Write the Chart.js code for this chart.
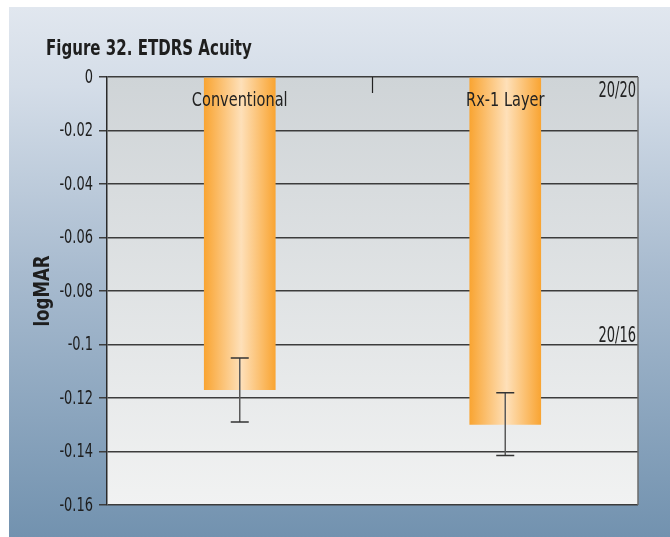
<!DOCTYPE html>
<html>
<head>
<meta charset="utf-8">
<script src="https://cdn.jsdelivr.net/npm/chart.js@4.4.1/dist/chart.umd.min.js"></script>
<style>
    html, body { margin: 0; padding: 0; background: #fff; }
    #wrap { width: 670px; height: 537px; }
</style>
</head>
<body>
<div id="wrap"><canvas id="acuity"></canvas></div>
<script>
// ETDRS acuity, logMAR
const categories = ['Conventional', 'Rx-1 Layer'];
const meanValues = [-0.117, -0.130];
const errHigh = [-0.105, -0.118];
const errLow = [-0.129, -0.1415];
const yTicks = [0, -0.02, -0.04, -0.06, -0.08, -0.1, -0.12, -0.14, -0.16];
const refLabels = ['20/20', '20/16'];
const refValues = [0, -0.097];

const FONT = '"DejaVu Sans Condensed", "DejaVu Sans", sans-serif';

// condensed text: the original uses a narrow face, so squeeze horizontally
function narrowText(ctx, text, x, y, align, baseline, sx) {
    ctx.save();
    ctx.translate(x, y);
    ctx.scale(sx, 1);
    ctx.textAlign = align;
    ctx.textBaseline = baseline;
    ctx.fillText(text, 0, 0);
    ctx.restore();
}

const fmt = (v) => String(+v.toFixed(2));

// background panel + plot area gradient
const backdrop = {
    id: 'backdrop',
    beforeDraw(chart) {
        const { ctx, chartArea: a } = chart;
        ctx.save();
        ctx.fillStyle = '#ffffff';
        ctx.fillRect(0, 0, chart.width, chart.height);
        const g = ctx.createLinearGradient(0, 7, 0, chart.height);
        g.addColorStop(0, '#e1e7ef');
        g.addColorStop(0.15, '#d4dde8');
        g.addColorStop(0.5, '#a8bbcf');
        g.addColorStop(1, '#7292af');
        ctx.fillStyle = g;
        ctx.fillRect(9, 7, chart.width - 9, chart.height - 7);

        const p = ctx.createLinearGradient(0, a.top, 0, a.bottom);
        p.addColorStop(0, '#cfd4d7');
        p.addColorStop(1, '#f1f2f2');
        ctx.fillStyle = p;
        ctx.fillRect(a.left, a.top, a.right - a.left, a.bottom - a.top);

        // title
        ctx.fillStyle = '#1e1e1e';
        ctx.font = 'bold 22px ' + FONT;
        narrowText(ctx, 'Figure 32. ETDRS Acuity', 46, 55, 'left', 'alphabetic', 0.76);
        ctx.restore();
    },
    afterDraw(chart) {
        const { ctx, chartArea: a, scales } = chart;
        ctx.save();
        // right frame line
        ctx.strokeStyle = '#6b6b6b';
        ctx.lineWidth = 1.5;
        ctx.beginPath();
        ctx.moveTo(a.right, a.top);
        ctx.lineTo(a.right, a.bottom);
        ctx.stroke();
        // category divider tick at top
        const xm = scales.x.getPixelForValue(0.5);
        ctx.strokeStyle = '#222';
        ctx.lineWidth = 1.2;
        ctx.beginPath();
        ctx.moveTo(xm, a.top);
        ctx.lineTo(xm, a.top + 16);
        ctx.stroke();
        // y tick labels
        ctx.fillStyle = '#1e1e1e';
        ctx.font = '19px ' + FONT;
        scales.y.ticks.forEach(t => {
            narrowText(ctx, fmt(t.value), a.left - 14, scales.y.getPixelForValue(t.value) + 1, 'right', 'middle', 0.76);
        });
        // axis title
        ctx.font = 'bold 21px ' + FONT;
        ctx.save();
        ctx.translate(44, (a.top + a.bottom) / 2);
        ctx.rotate(-Math.PI / 2);
        narrowText(ctx, 'logMAR', 0, 0, 'center', 'middle', 0.88);
        ctx.restore();
        ctx.restore();
    }
};

// category names, error bars, snellen references
const overlay = {
    id: 'overlay',
    afterDatasetsDraw(chart) {
        const { ctx, chartArea: a, scales } = chart;
        const x = scales.x, y = scales.y;
        ctx.save();
        categories.forEach((c, i) => {
            const cx = x.getPixelForValue(i);
            // error bar
            const yh = y.getPixelForValue(errHigh[i]);
            const yl = y.getPixelForValue(errLow[i]);
            ctx.strokeStyle = '#5a5a5a';
            ctx.lineWidth = 1.5;
            ctx.beginPath();
            ctx.moveTo(cx, yh);
            ctx.lineTo(cx, yl);
            ctx.stroke();
            ctx.strokeStyle = '#333';
            ctx.beginPath();
            ctx.moveTo(cx - 9, yh);
            ctx.lineTo(cx + 9, yh);
            ctx.moveTo(cx - 9, yl);
            ctx.lineTo(cx + 9, yl);
            ctx.stroke();
            // label
            ctx.fillStyle = '#222';
            ctx.font = '19px ' + FONT;
            narrowText(ctx, c, cx, a.top + 24, 'center', 'middle', 0.85);
        });
        ctx.font = '21px ' + FONT;
        refLabels.forEach((t, i) => {
            const yy = y.getPixelForValue(refValues[i]);
            if (refValues[i] >= y.max) {
                narrowText(ctx, t, a.right - 2, yy + 4, 'right', 'top', 0.69);
            } else {
                narrowText(ctx, t, a.right - 2, yy, 'right', 'middle', 0.69);
            }
        });
        ctx.restore();
    }
};

function barGradient(context) {
    const chart = context.chart;
    if (!chart.chartArea || !chart.scales.x) return '#f9a733';
    const cx = chart.scales.x.getPixelForValue(context.dataIndex);
    const w = 36;
    const g = chart.ctx.createLinearGradient(cx - w, 0, cx + w, 0);
    g.addColorStop(0, '#f9a431');
    g.addColorStop(0.52, '#fee0b9');
    g.addColorStop(1, '#f9a431');
    return g;
}

new Chart(document.getElementById('acuity'), {
    type: 'bar',
    data: {
        labels: categories,
        datasets: [{
            data: meanValues,
            backgroundColor: barGradient,
            borderWidth: 0,
            categoryPercentage: 1,
            barPercentage: 0.27
        }]
    },
    options: {
        responsive: true,
        maintainAspectRatio: false,
        animation: false,
        layout: { padding: { left: 34, top: 77, right: 32, bottom: 32 } },
        plugins: {
            legend: { display: false },
            tooltip: { enabled: false }
        },
        scales: {
            x: { display: false },
            y: {
                min: -0.16,
                max: 0,
                afterFit: (s) => { s.width = 73; },
                afterBuildTicks: (s) => { s.ticks = yTicks.map(v => ({ value: v })); },
                ticks: { display: false },
                grid: { color: '#3c3c3c', lineWidth: 1.5, tickLength: 8, drawTicks: true },
                border: { color: '#2a2a2a', width: 1.5 },
                title: { display: false }
            }
        }
    },
    plugins: [backdrop, overlay]
});
</script>
</body>
</html>
